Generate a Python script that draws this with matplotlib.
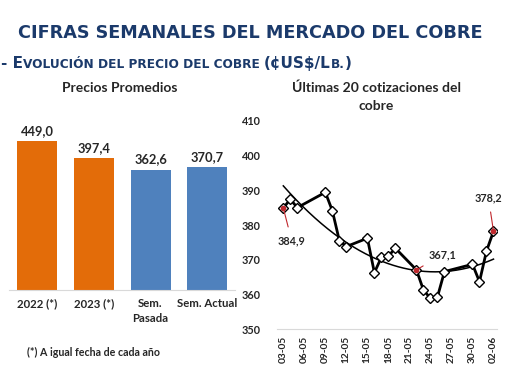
import numpy as np
import matplotlib
matplotlib.use("Agg")
import matplotlib.pyplot as plt
from matplotlib import font_manager as fm

# ---------------- data ----------------
bar_categories = ["2022 (*)", "2023 (*)", "Sem.\nPasada", "Sem. Actual"]
bar_values = [449.0, 397.4, 362.6, 370.7]
bar_colors = ["#E36C09", "#E36C09", "#4F81BD", "#4F81BD"]
bar_labels = ["449,0", "397,4", "362,6", "370,7"]

# trading days (day offset from 03-05) and prices
price_days = [0, 1, 2, 6, 7, 8, 9, 12, 13, 14, 15, 16, 19, 20, 21, 22, 23, 27, 28, 29, 30]
prices = [384.9, 387.4, 385.0, 389.4, 384.1, 375.5, 373.8, 376.2, 366.3, 370.7, 371.1,
          373.3, 367.1, 361.3, 358.9, 359.3, 366.6, 368.7, 363.7, 372.5, 378.2]
tick_days = [0, 3, 6, 9, 12, 15, 18, 21, 24, 27, 30]
tick_labels = ["03-05", "06-05", "09-05", "12-05", "15-05", "18-05", "21-05",
               "24-05", "27-05", "30-05", "02-06"]
y_ticks = [350, 360, 370, 380, 390, 400, 410]
annot_idx = [0, 12, 20]
annot_text = ["384,9", "367,1", "378,2"]

W, H = 510, 382
fig = plt.figure(figsize=(W / 100, H / 100), dpi=100)
navy = "#1B3A6B"
txt = "#262626"


def pick_bold_font(cands):
    for fam in cands:
        try:
            path = fm.findfont(fm.FontProperties(family=fam, weight="bold"),
                               fallback_to_default=False)
        except Exception:
            continue
        if "bold" in path.lower().replace("semibold", ""):
            return fam
    return cands[0]


FONT = pick_bold_font(["Lato", "Roboto", "Open Sans", "Noto Sans", "Liberation Sans"])


def px_axes(left, top, right, bottom):
    return fig.add_axes([left / W, 1 - bottom / H, (right - left) / W, (bottom - top) / H])


# ---------------- titles ----------------
fig.text(250 / W, 1 - 33 / H, "CIFRAS SEMANALES DEL MERCADO DEL COBRE", ha="center",
         va="center", fontsize=12.7, fontweight="bold", color=navy, family="DejaVu Sans")

pieces = [("- E", 11.0), ("VOLUCIÓN DEL PRECIO DEL COBRE ", 8.7), ("(¢US$/L", 11.0),
          ("B.", 8.7), (")", 11.0)]
renderer = fig.canvas.get_renderer()
x = 1
for s, fs in pieces:
    t = fig.text(x / W, 1 - 68 / H, s, ha="left", va="baseline", fontsize=fs,
                 fontweight="bold", color=navy, family="DejaVu Sans")
    bb = t.get_window_extent(renderer=renderer)
    x += bb.width

# ---------------- left bar chart ----------------
axL = px_axes(9, 124.1, 235.5, 290)
xs = np.arange(len(bar_values))
axL.bar(xs, bar_values, width=0.705, color=bar_colors, zorder=2)
axL.set_ylim(0, 500)
axL.set_xlim(-0.5, len(bar_values) - 0.5)
for xi, v, lab in zip(xs, bar_values, bar_labels):
    axL.annotate(lab, (xi, v), xytext=(0, 7.5), textcoords="offset points", ha="center",
                 va="center", fontsize=9.3, fontweight="bold", color=txt, family=FONT)
axL.set_xticks(xs)
axL.set_xticklabels(bar_categories, fontsize=8.2, fontweight="bold", color=txt,
                    family=FONT, linespacing=1.45)
axL.tick_params(axis="x", length=0, pad=6)
axL.set_yticks([])
for sp in ["top", "right", "left"]:
    axL.spines[sp].set_visible(False)
axL.spines["bottom"].set_color("#D9D9D9")
fig.text(120 / W, 1 - 88 / H, "Precios Promedios", ha="center", va="center",
         fontsize=10, fontweight="bold", color=txt, family=FONT)
fig.text(27 / W, 1 - 352 / H, "(*) A igual fecha de cada año", ha="left", va="center",
         fontsize=7.7, fontweight="bold", color=txt, family=FONT)

# ---------------- right line chart ----------------
axR = px_axes(277, 120.7, 497, 329.3)
d = np.array(price_days, dtype=float)
p = np.array(prices)
coef = np.polyfit(d, p, 2)
dd = np.linspace(d.min(), d.max(), 200)
axR.plot(dd, np.polyval(coef, dd), color="black", lw=1.1, zorder=2)
axR.plot(d, p, color="black", lw=2.0, marker="D", markersize=5.5,
         markerfacecolor="white", markeredgecolor="black", markeredgewidth=1.0, zorder=3)
axR.set_ylim(350, 410)
axR.set_xlim(-0.9, 30.5)
axR.set_yticks(y_ticks)
axR.set_yticklabels([str(v) for v in y_ticks], fontsize=7.8, fontweight="bold",
                    color=txt, family=FONT)
axR.set_xticks(tick_days)
axR.set_xticklabels(tick_labels, rotation=90, fontsize=7.3, fontweight="bold",
                    color=txt, family=FONT)
axR.tick_params(axis="y", length=0, pad=12)
axR.tick_params(axis="x", length=0, pad=5)
for sp in ["top", "right", "left"]:
    axR.spines[sp].set_visible(False)
axR.spines["bottom"].set_color("#D9D9D9")

offsets = [(6, -23.5), (18.5, 10.8), (-3.6, 23.8)]
for i, lab, off in zip(annot_idx, annot_text, offsets):
    axR.plot(d[i], p[i], marker="o", markersize=3, color="#C0282D", zorder=4)
    axR.annotate(lab, (d[i], p[i]), xytext=off, textcoords="offset points", ha="center",
                 va="center", fontsize=7.8, fontweight="bold", color=txt, family=FONT,
                 arrowprops=dict(arrowstyle="-", color="#C0282D", lw=0.8,
                                 shrinkA=4, shrinkB=1), zorder=5)

fig.text(376 / W, 1 - 88 / H, "Últimas 20 cotizaciones del", ha="center", va="center",
         fontsize=10, fontweight="bold", color=txt, family=FONT)
fig.text(376 / W, 1 - 106 / H, "cobre", ha="center", va="center",
         fontsize=10, fontweight="bold", color=txt, family=FONT)

fig.savefig("out.png", dpi=100)
